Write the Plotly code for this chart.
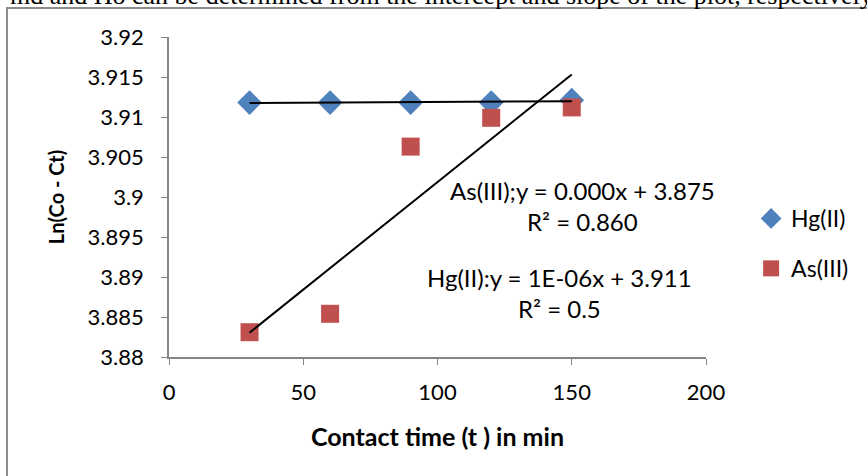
import numpy as np
import plotly.graph_objects as go

# Data
time_min = [30, 60, 90, 120, 150]
hg_values = [3.9118, 3.9118, 3.9118, 3.9118, 3.9121]
as_values = [3.8831, 3.8854, 3.9063, 3.9099, 3.9112]
series_names = ["Hg(II)", "As(III)"]
x_ticks = [0, 50, 100, 150, 200]
y_ticks = [3.88, 3.885, 3.89, 3.895, 3.9, 3.905, 3.91, 3.915, 3.92]
y_tick_text = ["3.88", "3.885", "3.89", "3.895", "3.9", "3.905", "3.91", "3.915", "3.92"]
eq_as = "As(III);y = 0.000x + 3.875<br>R² = 0.860"
eq_hg = "Hg(II):y = 1E-06x + 3.911<br>R² = 0.5"
page_text = "md and Ho can be determined from the intercept and slope of the plot, respectively."

FONT = "Lato"
BLUE = "#4F81BD"
RED = "#C0504D"
AXIS = "#868686"

fig = go.Figure()

fig.add_trace(go.Scatter(x=time_min, y=hg_values, mode="markers", name=series_names[0],
                         marker=dict(symbol="diamond", size=19, color=BLUE),
                         legendgroup="hg"))
fig.add_trace(go.Scatter(x=time_min, y=as_values, mode="markers", name=series_names[1],
                         marker=dict(symbol="square", size=18, color=RED),
                         legendgroup="as"))

# linear trendlines
for vals in (hg_values, as_values):
    k, b = np.polyfit(time_min, vals, 1)
    xs = [time_min[0], time_min[-1]]
    fig.add_trace(go.Scatter(x=xs, y=[k * xx + b for xx in xs], mode="lines",
                             line=dict(color="black", width=2), showlegend=False,
                             hoverinfo="skip"))

fig.add_annotation(x=154.1, y=3.8989, xref="x", yref="y", text=eq_as, showarrow=False,
                   align="center", font=dict(family=FONT, size=24, color="black"))
fig.add_annotation(x=145.6, y=3.8880, xref="x", yref="y", text=eq_hg, showarrow=False,
                   align="center", font=dict(family=FONT, size=24, color="black"))

# clipped page text above the chart
fig.add_annotation(x=-0.2998, y=1.131, xref="paper", yref="paper", text=page_text,
                   showarrow=False, xanchor="left", yanchor="middle",
                   font=dict(family="Liberation Serif", size=26, color="black"))

# chart border
fig.add_shape(type="rect", xref="paper", yref="paper", x0=-0.3017, y0=-1.0,
              x1=2.0, y1=1.0906, line=dict(color="#8c8c8c", width=2), layer="below")

fig.update_layout(
    width=867, height=476,
    margin=dict(l=169, r=161, t=37, b=119, autoexpand=False),
    paper_bgcolor="white", plot_bgcolor="white",
    font=dict(family=FONT, size=22, color="black"),
    showlegend=True,
    legend=dict(x=1.084, y=0.5, xanchor="left", yanchor="top",
                font=dict(family=FONT, size=23), tracegroupgap=17,
                itemwidth=30, bgcolor="rgba(0,0,0,0)"),
    xaxis=dict(range=[0, 200], tickvals=x_ticks, showgrid=False, zeroline=False,
               showline=True, linecolor=AXIS, linewidth=1.5, ticks="outside",
               ticklen=6, tickcolor=AXIS, tickfont=dict(size=22), automargin=False,
               ticklabelstandoff=9,
               title=dict(text="<b>Contact time (t ) in min</b>", font=dict(size=25), standoff=24)),
    yaxis=dict(range=[3.88, 3.92], tickvals=y_ticks, ticktext=y_tick_text, showgrid=False,
               zeroline=False, showline=True, linecolor=AXIS, linewidth=1.5, ticks="outside",
               ticklen=6, tickcolor=AXIS, tickfont=dict(size=22), automargin=False,
               ticklabelstandoff=13,
               title=dict(text="<b>Ln(Co - Ct)</b>", font=dict(size=20), standoff=18)),
)

fig.write_html("out.html", config={"displayModeBar": False},
               post_script="document.body.style.margin='0';")
